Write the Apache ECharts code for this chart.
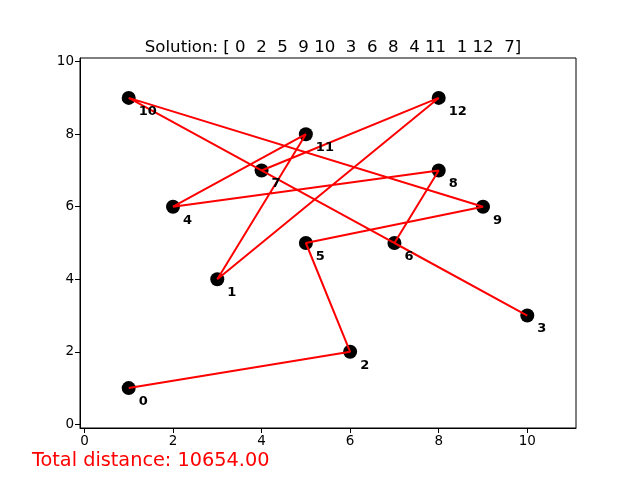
<!DOCTYPE html>
<html>
<head>
<meta charset="utf-8">
<script src="https://cdn.jsdelivr.net/npm/echarts@6/dist/echarts.min.js"></script>
<style>
html,body{margin:0;padding:0;background:#fff;}
#chart{width:640px;height:480px;}
</style>
</head>
<body>
<div id="chart"></div>
<script>
// city coordinates, index = city id
const cityX = [1, 3, 6, 10, 2, 5, 7, 4, 8, 9, 1, 5, 8];
const cityY = [1, 4, 2, 3, 6, 5, 5, 7, 7, 6, 9, 8, 9];
const route = [0, 2, 5, 9, 10, 3, 6, 8, 4, 11, 1, 12, 7];
const totalDistance = 10654.00;
const tickValues = [0, 2, 4, 6, 8, 10];

let titleText = 'Solution: [' + route.map(r => String(r).padStart(2, ' ')).join(' ') + ']';

let cityData = cityX.map((x, i) => [x, cityY[i], i]);
let routeData = route.map(i => [cityX[i], cityY[i]]);

let myChart = echarts.init(document.getElementById('chart'));
let font = 'DejaVu Sans';
let axisCommon = {
    type: 'value',
    splitLine: { show: false },
    axisLine: { show: true, onZero: false, lineStyle: { color: '#000', width: 1 } },
    axisTick: { show: true, inside: false, length: 5, lineStyle: { color: '#000' }, customValues: tickValues },
    axisLabel: { color: '#000', fontFamily: font, fontSize: 13.5, margin: 6, customValues: tickValues }
};
let option = {
    animation: false,
    title: {
        text: titleText,
        left: 328,
        textAlign: 'center',
        top: 34,
        textStyle: { fontFamily: font, fontSize: 16.6, fontWeight: 'normal', color: '#000', whiteSpace: 'pre' }
    },
    grid: {
        left: 80, right: 64, top: 58, bottom: 52,
        show: true, borderColor: '#000', borderWidth: 1, backgroundColor: 'transparent'
    },
    xAxis: Object.assign({}, axisCommon, { min: -0.1, max: 11.1 }),
    yAxis: Object.assign({}, axisCommon, { min: -0.1, max: 10.1 }),
    graphic: [{
        type: 'text',
        left: 32,
        top: 451,
        style: {
            text: 'Total distance: ' + totalDistance.toFixed(2),
            fill: 'red',
            font: '19.3px "DejaVu Sans"'
        }
    }],
    series: [
        {
            type: 'scatter',
            data: cityData,
            symbolSize: 14,
            itemStyle: { color: '#000', opacity: 1 },
            z: 2
        },
        {
            type: 'line',
            data: routeData,
            symbol: 'none',
            lineStyle: { color: 'red', width: 2 },
            z: 3
        },
        {
            // city ids, drawn above the route
            type: 'scatter',
            data: cityData,
            symbolSize: 14,
            itemStyle: { color: 'rgba(0,0,0,0)', opacity: 1 },
            z: 4,
            label: {
                show: true,
                position: [17, 14],
                formatter: (p) => String(p.value[2]),
                fontFamily: font,
                fontSize: 13,
                fontWeight: 'bold',
                color: '#000',
                opacity: 1
            }
        }
    ]
};
myChart.setOption(option);
</script>
</body>
</html>
